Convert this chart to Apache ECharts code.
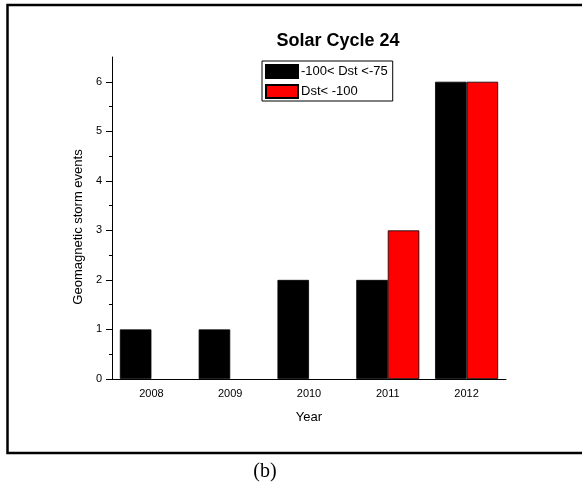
<!DOCTYPE html>
<html>
<head>
<meta charset="utf-8">
<script src="https://cdn.jsdelivr.net/npm/echarts@6/dist/echarts.min.js"></script>
<style>
  html, body { margin: 0; padding: 0; background: #fff; }
  #chart { width: 582px; height: 486px; }
</style>
</head>
<body>
<div id="chart"></div>
<script>
// Geomagnetic storm counts per year, solar cycle 24
const years = ['2008', '2009', '2010', '2011', '2012'];
const moderateStorms = [1, 1, 2, 2, 6];   // -100 < Dst < -75
const intenseStorms = [0, 0, 0, 3, 6];    // Dst < -100
const yMajorTicks = [0, 1, 2, 3, 4, 5, 6];
const yMinorTicks = [0.5, 1.5, 2.5, 3.5, 4.5, 5.5];
const yMax = 6.5;

const chart = echarts.init(document.getElementById('chart'), null, { renderer: 'canvas' });

const font = 'Liberation Sans, Arial, sans-serif';
const grid = { left: 112, right: 76, top: 57, bottom: 107 };

// empty bars get no outline so nothing is stroked along the baseline
const withOutline = vals => vals.map(v => v === 0 ? { value: v, itemStyle: { borderWidth: 0 } } : v);

chart.setOption({
  animation: false,
  backgroundColor: '#fff',
  title: {
    text: 'Solar Cycle 24',
    left: 333,
    top: 27,
    textAlign: 'center',
    textStyle: { fontFamily: font, fontSize: 18, fontWeight: 'bold', color: '#000' }
  },
  legend: {
    left: 262,
    top: 61,
    orient: 'vertical',
    padding: [3, 5, 2, 3],
    itemGap: 5,
    itemWidth: 32,
    itemHeight: 13,
    borderColor: '#000',
    borderWidth: 1,
    icon: 'rect',
    textStyle: { fontFamily: font, fontSize: 13, color: '#000', padding: [0, 0, 0, -2] },
    data: ['-100< Dst <-75', 'Dst< -100']
  },
  grid: [grid],
  xAxis: [
    {
      type: 'category',
      data: years,
      boundaryGap: true,
      axisLine: { lineStyle: { color: '#000', width: 1 } },
      axisTick: { alignWithLabel: true, length: 5, lineStyle: { color: '#000' } },
      axisLabel: { fontFamily: font, fontSize: 11, color: '#000', margin: 9 },
      name: 'Year',
      nameLocation: 'middle',
      nameGap: 32,
      nameTextStyle: { fontFamily: font, fontSize: 13, color: '#000' }
    },
    {
      type: 'category',
      data: years,
      boundaryGap: true,
      position: 'bottom',
      axisLine: { show: false },
      axisTick: { alignWithLabel: false, length: 3, lineStyle: { color: '#000' } },
      axisLabel: { show: false }
    }
  ],
  yAxis: [
    {
      type: 'value',
      min: 0,
      max: yMax,
      splitLine: { show: false },
      axisLine: { show: true, lineStyle: { color: '#000', width: 1 } },
      axisTick: { show: true, length: 6, customValues: yMajorTicks, lineStyle: { color: '#000' } },
      axisLabel: { customValues: yMajorTicks, fontFamily: font, fontSize: 11, color: '#000', margin: 10 },
      name: 'Geomagnetic storm events',
      nameLocation: 'middle',
      nameGap: 27,
      nameTextStyle: { fontFamily: font, fontSize: 13, color: '#000', padding: [0, 18, 0, 0] }
    },
    {
      type: 'value',
      min: 0,
      max: yMax,
      position: 'left',
      splitLine: { show: false },
      axisLine: { show: false },
      axisTick: { show: true, length: 3, customValues: yMinorTicks, lineStyle: { color: '#000' } },
      axisLabel: { show: false }
    }
  ],
  series: [
    {
      name: '-100< Dst <-75',
      type: 'bar',
      data: withOutline(moderateStorms),
      barGap: 0,
      barCategoryGap: '20%',
      itemStyle: { color: '#000000', borderColor: '#000', borderWidth: 0.8 }
    },
    {
      name: 'Dst< -100',
      type: 'bar',
      data: withOutline(intenseStorms),
      barGap: 0,
      barCategoryGap: '20%',
      itemStyle: { color: '#ff0000', borderColor: '#000', borderWidth: 0.8 }
    }
  ],
  graphic: [
    {
      type: 'rect',
      shape: { x: 7.5, y: 5, width: 590, height: 448 },
      style: { fill: null, stroke: '#000', lineWidth: 2.5 },
      silent: true,
      z: 10
    },
    {
      type: 'text',
      x: 265,
      y: 472,
      style: {
        text: '(b)',
        fontFamily: 'Liberation Serif, Times New Roman, serif',
        fontSize: 20,
        fill: '#000',
        align: 'center',
        verticalAlign: 'middle'
      }
    }
  ]
});
</script>
</body>
</html>
